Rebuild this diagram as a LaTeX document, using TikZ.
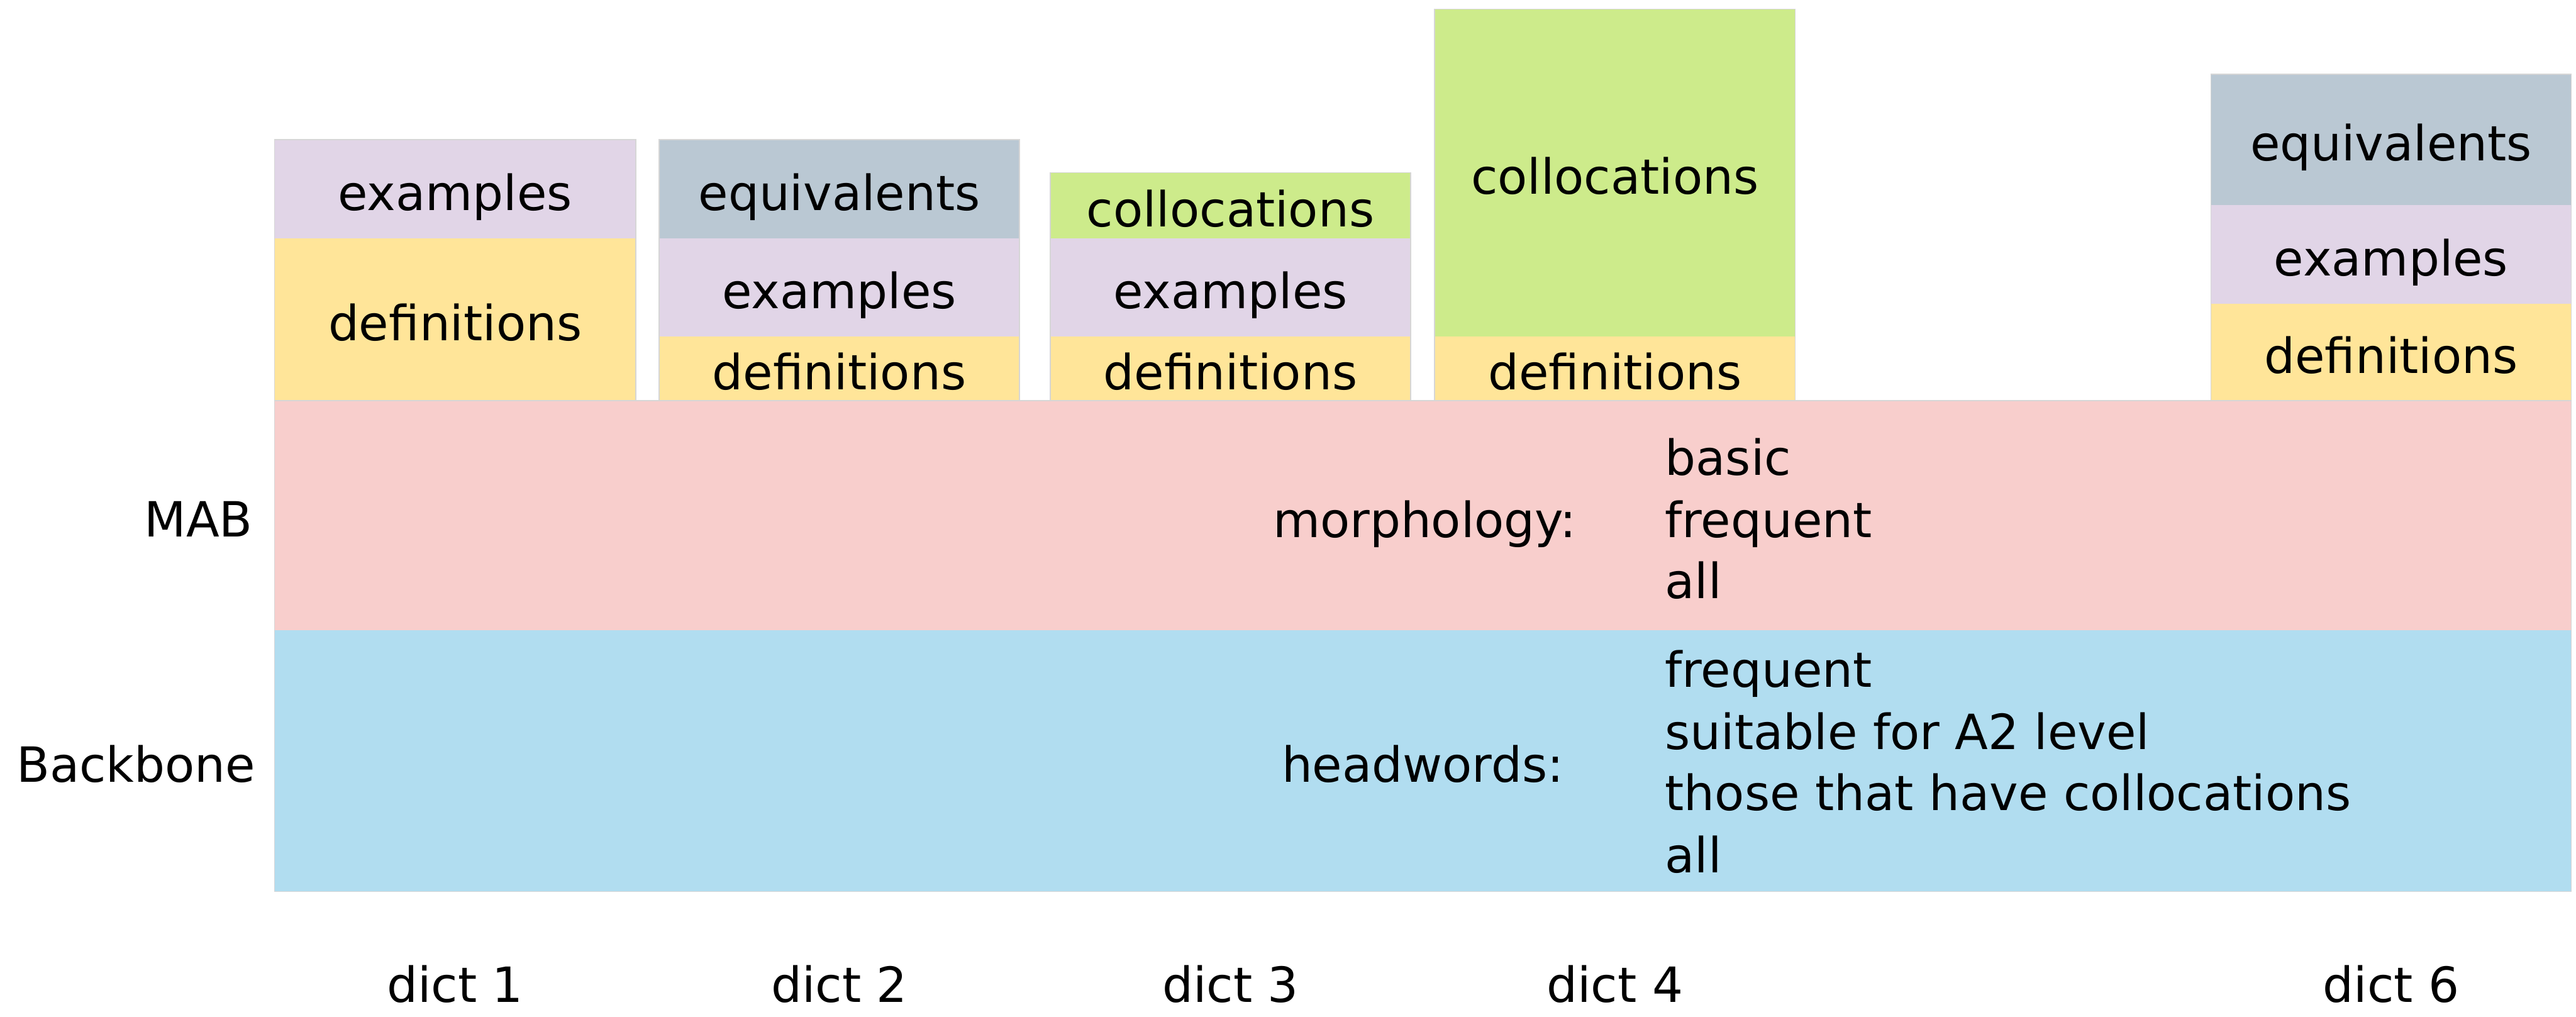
\documentclass[tikz,border=0pt]{standalone}
\usepackage{fontspec}
\setmainfont{DejaVu Sans}

\definecolor{cEx}{HTML}{E1D5E7}
\definecolor{cDef}{HTML}{FFE599}
\definecolor{cEq}{HTML}{BAC8D3}
\definecolor{cCol}{HTML}{CDEB8B}
\definecolor{cMab}{HTML}{F8CECC}
\definecolor{cBb}{HTML}{B1DDF0}

\tikzset{
  cell/.style={draw=none, inner sep=0pt, outer sep=0pt},
  rim/.style={draw=black!16, line width=0.5pt},
  lbl/.style={anchor=base, inner sep=0pt, font=\fontsize{25.9}{31}\selectfont},
  foot/.style={lbl},
}

% name, fill, x-left, x-right, y-top, y-bottom (measured downwards), text
\newcommand\cellbox[7]{%
  \node[cell, fill=#2, minimum width={(#4-#3)*1cm}, minimum height={(#6-#5)*1cm}]
    (#1) at ({(#3+#4)/2},{-(#5+#6)/2}) {};
  \node[lbl] (#1-t) at ({(#3+#4)/2},{-(#5+#6)/2-0.40}) {#7};
}

\begin{document}
\begin{tikzpicture}
\useasboundingbox (0,-19.08) rectangle (48.34,0);

% layer bands
\node[cell, fill=cMab, minimum width=43.10cm, minimum height=4.31cm] (mab) at (26.70,-9.675) {};
\node[cell, fill=cBb,  minimum width=43.10cm, minimum height=4.90cm] (bb)  at (26.70,-14.28) {};
\draw[rim] (mab.north west) rectangle (bb.south east);

% dictionary columns
\cellbox{d1ex}{cEx}{5.15}{11.93}{2.62}{4.47}{examples}
\cellbox{d1def}{cDef}{5.15}{11.93}{4.47}{7.52}{definitions}
\draw[rim] (d1ex.north west) rectangle (d1def.south east);

\cellbox{d2eq}{cEq}{12.37}{19.13}{2.62}{4.47}{equivalents}
\cellbox{d2ex}{cEx}{12.37}{19.13}{4.47}{6.31}{examples}
\cellbox{d2def}{cDef}{12.37}{19.13}{6.31}{7.52}{definitions}
\draw[rim] (d2eq.north west) rectangle (d2def.south east);

\cellbox{d3col}{cCol}{19.71}{26.47}{3.24}{4.47}{collocations}
\cellbox{d3ex}{cEx}{19.71}{26.47}{4.47}{6.31}{examples}
\cellbox{d3def}{cDef}{19.71}{26.47}{6.31}{7.52}{definitions}
\draw[rim] (d3col.north west) rectangle (d3def.south east);

\cellbox{d4col}{cCol}{26.92}{33.69}{0.17}{6.31}{collocations}
\cellbox{d4def}{cDef}{26.92}{33.69}{6.31}{7.52}{definitions}
\draw[rim] (d4col.north west) rectangle (d4def.south east);

\cellbox{d6eq}{cEq}{41.49}{48.25}{1.39}{3.85}{equivalents}
\cellbox{d6ex}{cEx}{41.49}{48.25}{3.85}{5.70}{examples}
\cellbox{d6def}{cDef}{41.49}{48.25}{5.70}{7.52}{definitions}
\draw[rim] (d6eq.north west) rectangle (d6def.south east);

% row labels
\node[lbl, anchor=base east] (lmab) at (4.75,-10.07) {MAB};
\node[lbl, anchor=base east] (lbb)  at (4.80,-14.68) {Backbone};

% band contents
\node[lbl, anchor=base east] (morph) at (29.59,-10.08) {morphology:};
\node[lbl, anchor=base west] (m1) at (31.24,-8.92)  {basic};
\node[lbl, anchor=base west] (m2) at (31.24,-10.08) {frequent};
\node[lbl, anchor=base west] (m3) at (31.24,-11.23) {all};

\node[lbl, anchor=base east] (head) at (29.35,-14.68) {headwords:};
\node[lbl, anchor=base west] (h1) at (31.24,-12.89) {frequent};
\node[lbl, anchor=base west] (h2) at (31.24,-14.06) {suitable for A2 level};
\node[lbl, anchor=base west] (h3) at (31.24,-15.21) {those that have collocations};
\node[lbl, anchor=base west] (h4) at (31.24,-16.38) {all};

% dictionary names
\node[foot] (n1) at (8.54,-18.80)  {dict 1};
\node[foot] (n2) at (15.75,-18.80) {dict 2};
\node[foot] (n3) at (23.09,-18.80) {dict 3};
\node[foot] (n4) at (30.305,-18.80) {dict 4};
\node[foot] (n6) at (44.87,-18.80) {dict 6};
\end{tikzpicture}
\end{document}
